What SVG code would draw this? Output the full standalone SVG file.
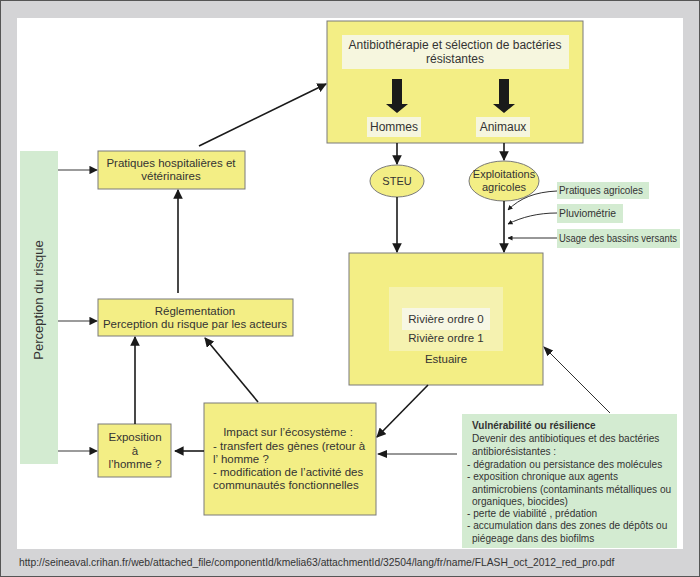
<svg xmlns="http://www.w3.org/2000/svg" width="700" height="577" viewBox="0 0 700 577">
<style>
text{font-family:"Liberation Sans",Arial,sans-serif;font-size:11.5px;fill:#333}
.y{fill:#f3ee85;stroke:#7a7a7a;stroke-width:1}
.g{fill:#d3ebd1}
.lt{fill:#f6f6de}
.c{text-anchor:middle}
.b{font-size:12px}
.v{font-size:10.1px}
.s{font-size:10.4px}
.k{stroke:#1a1a1a;stroke-width:1.6;fill:none}
.t{stroke:#1a1a1a;stroke-width:0.9;fill:none}
.gr{stroke:#7a7a7a;stroke-width:1.4;fill:none}
</style>
<defs>
<marker id="a" viewBox="0 0 10 10" refX="9" refY="5" markerWidth="6" markerHeight="6" orient="auto" markerUnits="strokeWidth"><path d="M0,0L10,5L0,10z" fill="#1a1a1a"/></marker>
<marker id="as" viewBox="0 0 10 10" refX="9" refY="5" markerWidth="5" markerHeight="5" orient="auto" markerUnits="userSpaceOnUse"><path d="M0,0L10,5L0,10z" fill="#1a1a1a"/></marker>
<marker id="at" viewBox="0 0 10 10" refX="9" refY="5" markerWidth="10" markerHeight="10" orient="auto" markerUnits="userSpaceOnUse"><path d="M0,1L10,5L0,9z" fill="#1a1a1a"/></marker>
</defs>
<rect x="0.5" y="0.5" width="699" height="576" fill="#d4d4d6" stroke="#555"/>
<rect x="17" y="18" width="666" height="531" fill="#fff"/>

<g id="perception">
<rect class="g" x="20" y="151" width="38" height="313"/>
<text class="c" transform="translate(43,300) rotate(-90)" style="font-size:13px">Perception du risque</text>
</g>

<g id="pratiques">
<rect class="y" x="98" y="151" width="147" height="38"/>
<text class="c" x="171" y="167">Pratiques hospitalières et</text>
<text class="c" x="171" y="180">vétérinaires</text>
</g>

<g id="antibio">
<rect class="y" x="327" y="21" width="256" height="122"/>
<rect class="lt" x="342" y="35" width="227" height="34"/>
<text class="c b" x="455" y="49">Antibiothérapie et sélection de bactéries</text>
<text class="c b" x="455" y="63">résistantes</text>
<polygon points="392,79 402,79 402,104 408,104 397,113 386,104 392,104" fill="#1a1a1a"/>
<polygon points="499,79 509,79 509,104 515,104 504,113 493,104 499,104" fill="#1a1a1a"/>
<rect class="lt" x="367" y="117" width="54" height="20"/>
<text class="c b" x="394" y="131">Hommes</text>
<rect class="lt" x="476" y="117" width="54" height="20"/>
<text class="c b" x="503" y="131">Animaux</text>
</g>

<g id="steu">
<ellipse class="y" cx="397" cy="181" rx="27" ry="16"/>
<text class="c" x="397" y="185" style="font-size:11px">STEU</text>
</g>

<g id="exploitations">
<ellipse class="y" cx="504" cy="181" rx="35" ry="20"/>
<text class="c" x="504" y="178" style="font-size:11px">Exploitations</text>
<text class="c" x="504" y="191" style="font-size:11px">agricoles</text>
</g>

<g id="pratiques-agricoles">
<rect class="g" x="557" y="182" width="92" height="17"/>
<text class="s" x="559" y="194" textLength="84" lengthAdjust="spacingAndGlyphs">Pratiques agricoles</text>
</g>
<g id="pluviometrie">
<rect class="g" x="557" y="204" width="66" height="19"/>
<text class="s" x="559" y="217" textLength="57" lengthAdjust="spacingAndGlyphs">Pluviométrie</text>
</g>
<g id="usage">
<rect class="g" x="557" y="229" width="123" height="19"/>
<text class="s" x="559" y="242" textLength="118" lengthAdjust="spacingAndGlyphs">Usage des bassins versants</text>
</g>

<g id="estuaire">
<rect class="y" x="349" y="253" width="194" height="132"/>
<rect x="389" y="287" width="114" height="64" fill="#f5f2b0"/>
<rect x="402" y="308" width="88" height="22" fill="#f7f7e4"/>
<text class="c" x="446" y="323">Rivière ordre 0</text>
<text class="c" x="446" y="342">Rivière ordre 1</text>
<text class="c" x="446" y="363">Estuaire</text>
</g>

<g id="reglementation">
<rect class="y" x="98" y="299" width="195" height="37"/>
<text class="c" x="195" y="315">Réglementation</text>
<text class="c" x="195" y="328">Perception du risque par les acteurs</text>
</g>

<g id="exposition">
<rect class="y" x="98" y="424" width="73" height="53"/>
<text class="c" x="135" y="441">Exposition</text>
<text class="c" x="135" y="455">à</text>
<text class="c" x="135" y="468">l’homme ?</text>
</g>

<g id="impact">
<rect class="y" x="204" y="403" width="172" height="112"/>
<text class="c" x="288" y="436">Impact sur l’écosystème :</text>
<text x="213" y="450">- transfert des gènes (retour à</text>
<text x="213" y="463">l’ homme ?</text>
<text x="213" y="476">- modification de l’activité des</text>
<text x="213" y="489">communautés fonctionnelles</text>
</g>

<g id="vulnerabilite">
<rect class="g" x="462" y="414" width="215" height="134"/>
<text x="472" y="429" style="font-weight:bold;font-size:10px">Vulnérabilité ou résilience</text>
<text class="v" x="472" y="442">Devenir des antibiotiques et des bactéries</text>
<text class="v" x="472" y="455">antibiorésistantes :</text>
<text class="v" x="467" y="468">- dégradation ou persistance des molécules</text>
<text class="v" x="467" y="480">- exposition chronique aux agents</text>
<text class="v" x="472" y="493">antimicrobiens (contaminants métalliques ou</text>
<text class="v" x="472" y="505">organiques, biocides)</text>
<text class="v" x="467" y="517">- perte de viabilité , prédation</text>
<text class="v" x="467" y="529">- accumulation dans des zones de dépôts ou</text>
<text class="v" x="472" y="542">piégeage dans des biofilms</text>
</g>

<g id="connectors">
<line class="gr" x1="58" y1="170" x2="97" y2="170" marker-end="url(#a)"/>
<line class="gr" x1="58" y1="321" x2="97" y2="321" marker-end="url(#a)"/>
<line class="gr" x1="58" y1="451" x2="97" y2="451" marker-end="url(#a)"/>
<line class="k" x1="199" y1="146" x2="326" y2="84" marker-end="url(#a)"/>
<line class="k" x1="178" y1="293" x2="178" y2="190" marker-end="url(#a)"/>
<line class="k" x1="135" y1="424" x2="135" y2="337" marker-end="url(#a)"/>
<line class="k" x1="258" y1="402" x2="205" y2="338" marker-end="url(#a)"/>
<line class="k" x1="204" y1="451" x2="175" y2="451" marker-end="url(#a)"/>
<line class="k" x1="428" y1="385" x2="377" y2="437" marker-end="url(#a)"/>
<line class="t" x1="457" y1="454" x2="378" y2="454" marker-end="url(#at)"/>
<line class="t" x1="610" y1="413" x2="544" y2="347" marker-end="url(#at)"/>
<line class="k" x1="397" y1="143" x2="397" y2="164" marker-end="url(#a)"/>
<line class="k" x1="504" y1="143" x2="504" y2="160" marker-end="url(#a)"/>
<line class="k" x1="397" y1="197" x2="397" y2="252" marker-end="url(#a)"/>
<line class="k" x1="504" y1="201" x2="504" y2="252" marker-end="url(#a)"/>
<path class="t" d="M557,191 C535,192 520,198 508,210" marker-end="url(#as)"/>
<path class="t" d="M557,213 C538,213 522,217 508,224" marker-end="url(#as)"/>
<line class="t" x1="557" y1="238" x2="508" y2="238" marker-end="url(#as)"/>
</g>

<text x="19" y="566" style="font-size:10.3px">http://seineaval.crihan.fr/web/attached_file/componentId/kmelia63/attachmentId/32504/lang/fr/name/FLASH_oct_2012_red_pro.pdf</text>
</svg>
